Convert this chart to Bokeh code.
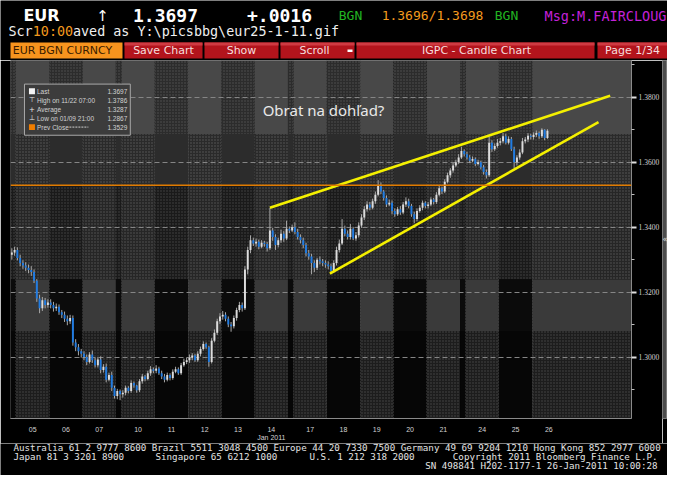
from datetime import date

from bokeh.plotting import figure
from bokeh.models import Range1d, FixedTicker, NumeralTickFormatter, Span, Label, ColumnDataSource
from bokeh.layouts import column, row
from bokeh.core.properties import value
from bokeh.embed import file_html
from bokeh.resources import INLINE

# ---------------- data (EUR BGN Curncy, 2-hour candles, Jan 2011) ----------------
session_labels = ["", "05", "06", "07", "", "10", "11", "12", "13", "14", "",
                  "17", "18", "19", "20", "21", "", "24", "25", "26"]
session_bars = [2, 12, 12, 12, 2, 12, 12, 12, 12, 12, 2, 12, 12, 12, 12, 12, 2, 12, 12, 6]

first_open = 1.3315
close = [
    1.3322, 1.3330,
    1.3305, 1.3290, 1.3282, 1.3275, 1.3268, 1.3262, 1.3235, 1.3180, 1.3150, 1.3175, 1.3160, 1.3168,
    1.3160, 1.3150, 1.3155, 1.3138, 1.3130, 1.3118, 1.3110, 1.3120, 1.3045, 1.3030, 1.3018, 1.3010,
    1.3000, 1.2985, 1.3008, 1.2990, 1.2975, 1.2992, 1.2960, 1.2970, 1.2930, 1.2945, 1.2905, 1.2880,
    1.2895, 1.2885,
    1.2890, 1.2905, 1.2895, 1.2920, 1.2912, 1.2898, 1.2925, 1.2940, 1.2932, 1.2950, 1.2962, 1.2958,
    1.2965, 1.2950, 1.2940, 1.2930, 1.2945, 1.2935, 1.2955, 1.2962, 1.2950, 1.2975, 1.2985, 1.2990,
    1.2998, 1.3005, 1.2990, 1.3010, 1.3025, 1.3040, 1.3030, 1.2985, 1.3050, 1.3075, 1.3110, 1.3125,
    1.3130, 1.3118, 1.3100, 1.3095, 1.3120, 1.3145, 1.3160, 1.3150, 1.3270, 1.3330, 1.3360, 1.3350,
    1.3355, 1.3340, 1.3352, 1.3348, 1.3335, 1.3390, 1.3370, 1.3345, 1.3360, 1.3380, 1.3365, 1.3395,
    1.3390, 1.3400,
    1.3385, 1.3370, 1.3360, 1.3345, 1.3320, 1.3310, 1.3290, 1.3275, 1.3300, 1.3295, 1.3290, 1.3285,
    1.3280, 1.3265, 1.3290, 1.3330, 1.3350, 1.3395, 1.3380, 1.3370, 1.3395, 1.3365, 1.3375, 1.3405,
    1.3430, 1.3455, 1.3470, 1.3460, 1.3480, 1.3500, 1.3530, 1.3510, 1.3490, 1.3470, 1.3475, 1.3450,
    1.3440, 1.3455, 1.3445, 1.3470, 1.3480, 1.3465, 1.3440, 1.3425, 1.3450, 1.3460, 1.3475, 1.3465,
    1.3470, 1.3485, 1.3478, 1.3500, 1.3520, 1.3510, 1.3540, 1.3560, 1.3575, 1.3590, 1.3600, 1.3615,
    1.3635, 1.3625,
    1.3615, 1.3605, 1.3610, 1.3595, 1.3600, 1.3585, 1.3570, 1.3560, 1.3660, 1.3640, 1.3650, 1.3660,
    1.3665, 1.3680, 1.3660, 1.3672, 1.3640, 1.3600, 1.3615, 1.3630, 1.3665, 1.3670, 1.3682, 1.3678,
    1.3685, 1.3690, 1.3680, 1.3700, 1.3675, 1.3697,
]
high = [
    1.3335, 1.3340,
    1.3338, 1.3315, 1.3298, 1.3292, 1.3285, 1.3280, 1.3270, 1.3240, 1.3192, 1.3185, 1.3182, 1.3178,
    1.3178, 1.3170, 1.3165, 1.3162, 1.3145, 1.3140, 1.3128, 1.3130, 1.3128, 1.3055, 1.3040, 1.3025,
    1.3018, 1.3008, 1.3015, 1.3020, 1.2998, 1.3000, 1.3002, 1.2978, 1.2980, 1.2952, 1.2955, 1.2912,
    1.2902, 1.2900,
    1.2898, 1.2912, 1.2910, 1.2928, 1.2925, 1.2915, 1.2932, 1.2948, 1.2945, 1.2958, 1.2972, 1.2968,
    1.2975, 1.2970, 1.2958, 1.2948, 1.2952, 1.2950, 1.2962, 1.2970, 1.2968, 1.2982, 1.2995, 1.2998,
    1.3008, 1.3012, 1.3010, 1.3018, 1.3032, 1.3048, 1.3045, 1.3035, 1.3058, 1.3085, 1.3118, 1.3135,
    1.3142, 1.3138, 1.3125, 1.3108, 1.3128, 1.3152, 1.3170, 1.3168, 1.3280, 1.3340, 1.3375, 1.3368,
    1.3365, 1.3362, 1.3360, 1.3358, 1.3355, 1.3460, 1.3398, 1.3378, 1.3368, 1.3392, 1.3388, 1.3420,
    1.3402, 1.3408,
    1.3415, 1.3395, 1.3378, 1.3368, 1.3352, 1.3330, 1.3318, 1.3298, 1.3305, 1.3310, 1.3302, 1.3298,
    1.3295, 1.3288, 1.3298, 1.3340, 1.3362, 1.3425, 1.3405, 1.3390, 1.3410, 1.3400, 1.3385, 1.3415,
    1.3440, 1.3465, 1.3480, 1.3478, 1.3488, 1.3510, 1.3545, 1.3538, 1.3515, 1.3498, 1.3485, 1.3482,
    1.3458, 1.3462, 1.3465, 1.3478, 1.3492, 1.3488, 1.3472, 1.3448, 1.3458, 1.3468, 1.3482, 1.3480,
    1.3478, 1.3492, 1.3490, 1.3508, 1.3528, 1.3525, 1.3548, 1.3568, 1.3582, 1.3598, 1.3608, 1.3625,
    1.3648, 1.3640,
    1.3632, 1.3622, 1.3618, 1.3615, 1.3608, 1.3605, 1.3592, 1.3578, 1.3680, 1.3668, 1.3658, 1.3672,
    1.3675, 1.3690, 1.3688, 1.3680, 1.3678, 1.3648, 1.3622, 1.3640, 1.3675, 1.3678, 1.3690, 1.3688,
    1.3692, 1.3698, 1.3695, 1.3705, 1.3702, 1.3702,
]
low = [
    1.3300, 1.3312,
    1.3298, 1.3280, 1.3272, 1.3265, 1.3258, 1.3250, 1.3228, 1.3170, 1.3135, 1.3142, 1.3150, 1.3152,
    1.3150, 1.3140, 1.3142, 1.3130, 1.3120, 1.3108, 1.3098, 1.3102, 1.3035, 1.3018, 1.3005, 1.2998,
    1.2990, 1.2975, 1.2980, 1.2982, 1.2968, 1.2968, 1.2950, 1.2952, 1.2922, 1.2925, 1.2895, 1.2872,
    1.2870, 1.2867,
    1.2875, 1.2882, 1.2888, 1.2890, 1.2905, 1.2890, 1.2892, 1.2918, 1.2925, 1.2928, 1.2942, 1.2950,
    1.2950, 1.2945, 1.2932, 1.2922, 1.2925, 1.2928, 1.2930, 1.2950, 1.2945, 1.2945, 1.2970, 1.2978,
    1.2982, 1.2990, 1.2985, 1.2985, 1.3002, 1.3020, 1.3025, 1.2970, 1.2980, 1.3045, 1.3068, 1.3102,
    1.3115, 1.3110, 1.3092, 1.3078, 1.3088, 1.3112, 1.3138, 1.3140, 1.3145, 1.3255, 1.3320, 1.3342,
    1.3340, 1.3332, 1.3335, 1.3340, 1.3325, 1.3330, 1.3358, 1.3330, 1.3338, 1.3352, 1.3355, 1.3360,
    1.3382, 1.3385,
    1.3378, 1.3362, 1.3350, 1.3335, 1.3310, 1.3300, 1.3255, 1.3262, 1.3268, 1.3285, 1.3280, 1.3275,
    1.3270, 1.3258, 1.3260, 1.3282, 1.3322, 1.3345, 1.3372, 1.3362, 1.3362, 1.3360, 1.3358, 1.3368,
    1.3398, 1.3422, 1.3448, 1.3452, 1.3455, 1.3472, 1.3495, 1.3502, 1.3482, 1.3462, 1.3465, 1.3440,
    1.3432, 1.3435, 1.3438, 1.3440, 1.3462, 1.3458, 1.3432, 1.3412, 1.3418, 1.3445, 1.3452, 1.3458,
    1.3458, 1.3465, 1.3470, 1.3472, 1.3495, 1.3502, 1.3505, 1.3535, 1.3552, 1.3568, 1.3585, 1.3595,
    1.3610, 1.3618,
    1.3608, 1.3598, 1.3600, 1.3588, 1.3590, 1.3578, 1.3562, 1.3550, 1.3555, 1.3632, 1.3635, 1.3645,
    1.3652, 1.3658, 1.3655, 1.3655, 1.3635, 1.3582, 1.3590, 1.3608, 1.3625, 1.3658, 1.3662, 1.3670,
    1.3670, 1.3678, 1.3672, 1.3675, 1.3668, 1.3672,
]

prev_close = 1.3529
legend_labels = ["Last", "High on 11/22 07:00", "Average", "Low on 01/09 21:00", "Prev Close"]
legend_values = [1.3697, 1.3786, 1.3287, 1.2867, 1.3529]

# hand drawn wedge
upper_x = [91.0, 213.6]
upper_y = [1.3460, 1.3805]
lower_x = [112.6, 209.4]
lower_y = [1.3257, 1.3724]

y_ticks = [1.30, 1.32, 1.34, 1.36, 1.38]
y_minor = [1.29, 1.31, 1.33, 1.35, 1.37, 1.39]

# ---------------- geometry (reference pixels) ----------------
X0, X1 = -2.48, 221.29
Y0, Y1 = 1.28106, 1.39136
FL, FR, FT, FB = 10, 632, 60, 424
W = 667


def dx(px):
    return X0 + (px - FL) / (FR - FL) * (X1 - X0)


def dy(py):
    return Y1 - (py - FT) / (FB - FT) * (Y1 - Y0)


def blank(p):
    p.xgrid.visible = False
    p.ygrid.visible = False


# ---------------- header ----------------
hdr = figure(width=W, height=60, x_range=Range1d(0, W), y_range=Range1d(60, 0),
             toolbar_location=None, output_backend="svg", min_border=0,
             x_axis_type=None, y_axis_type=None, outline_line_color=None,
             background_fill_color="black", border_fill_color="black")
blank(hdr)

mono = value("DejaVu Sans Mono")
hdr.text(x=[41], y=[15], text=["EUR"], text_font=value("DejaVu Sans"), text_font_style="bold",
         text_font_size="16px", text_color="white", text_align="center", text_baseline="middle")
hdr.text(x=[102], y=[15], text=["\u2191"], text_font=value("DejaVu Sans"),
         text_font_size="15px", text_color="white", text_align="center", text_baseline="middle")
hdr.text(x=[165, 279], y=[15, 15], text=["1.3697", "+.0016"], text_font=mono, text_font_style="bold",
         text_font_size="18px", text_color="white", text_align="center", text_baseline="middle")
hdr.text(x=[350, 506], y=[15, 15], text=["BGN", "BGN"], text_font=mono,
         text_font_size="13px", text_color="#22b422", text_align="center", text_baseline="middle")
hdr.text(x=[432], y=[15], text=["1.3696/1.3698"], text_font=mono,
         text_font_size="13px", text_color="#f39a1e", text_align="center", text_baseline="middle")
hdr.text(x=[605], y=[15], text=["Msg:M.FAIRCLOUG"], text_font=mono,
         text_font_size="13.5px", text_color="#c421d8", text_align="center", text_baseline="middle")

hdr.text(x=[8, 72.5], y=[31, 31], text=["Scr", "aved as Y:\\picsbbg\\eur25-1-11.gif"], text_font=mono,
         text_font_size="13.4px", text_color="#f0f0f0", text_baseline="middle")
hdr.text(x=[32.3], y=[31], text=["10:00"], text_font=mono,
         text_font_size="13.4px", text_color="#f39a1e", text_baseline="middle")

btn_left = [10, 124, 204, 280, 356, 597]
btn_right = [122, 202, 278, 354, 594, 668]
btn_text = ["EUR BGN CURNCY", "Save Chart", "Show", "Scroll", "IGPC - Candle Chart", "Page 1/34"]
btn_center = [62, 163, 241, 314, 476, 632]
hdr.quad(left=btn_left, right=btn_right, top=42, bottom=58,
         fill_color=["#f7941e"] + ["#b3141c"] * 5, line_color=None)
hdr.quad(left=btn_left[1:], right=btn_right[1:], top=42, bottom=45,
         fill_color="#cf3a42", line_color=None)
hdr.quad(left=[347], right=[352], top=[49], bottom=[51.5], fill_color="white", line_color=None)
hdr.text(x=btn_center[:1], y=[50], text=btn_text[:1], text_font=value("DejaVu Sans"),
         text_font_size="11px", text_color="#3a1c00", text_align="center", text_baseline="middle")
hdr.text(x=btn_center[1:], y=[50] * 5, text=btn_text[1:], text_font=value("DejaVu Sans"),
         text_font_size="11px", text_color="#f6dede", text_align="center", text_baseline="middle")

# ---------------- main chart ----------------
p = figure(width=662, height=383, x_range=Range1d(X0, X1), y_range=Range1d(Y0, Y1),
           y_axis_location="right", toolbar_location=None, output_backend="svg",
           min_border_left=FL, min_border_right=662 - FR, min_border_top=0, min_border_bottom=19,
           outline_line_color=None, background_fill_color="black", border_fill_color="black")

# session columns
starts = []
s = -2
for n in session_bars:
    starts.append(s)
    s += n

zone_edges = [Y0, 1.3080, 1.3240, prev_close, 1.3687, Y1]
light_style = [("#1d1d1d", "#4a4a4a"), ("#3a3a3a", None), ("#262626", "#575757"),
               ("#2a2a2a", "#5c5c5c"), ("#484848", None)]
dark_style = [("#060606", None), ("#0b0b0b", None), ("#1a1a1a", "#454545"),
              ("#2c2c2c", None), ("#2c2c2c", "#545454")]

solid = dict(l=[], r=[], b=[], t=[], c=[])
dotted = dict(l=[], r=[], b=[], t=[], c=[], h=[])
tick_pos, tick_lab, bounds = [], {}, []
for i, (lab, n) in enumerate(zip(session_labels, session_bars)):
    left = X0 if i == 0 else starts[i] - 0.5
    right = X1 if i == len(session_labels) - 1 else starts[i] + n - 0.5
    dark = lab == "" or date(2011, 1, int(lab)).weekday() in (1, 3)
    if lab:
        c = starts[i] + 5.5
        tick_pos.append(c)
        tick_lab[c] = lab + ("\nJan 2011" if lab == "14" else "")
        bounds.append(left)
    styles = dark_style if dark else light_style
    for z in range(5):
        fill, dots = styles[z]
        d = dotted if dots else solid
        d["l"].append(left)
        d["r"].append(right)
        d["b"].append(zone_edges[z])
        d["t"].append(zone_edges[z + 1])
        d["c"].append(fill)
        if dots:
            d["h"].append(dots)

p.quad(left="l", right="r", bottom="b", top="t", fill_color="c", line_color=None,
       source=ColumnDataSource(solid), level="image")
p.quad(left="l", right="r", bottom="b", top="t", fill_color="c", line_color=None,
       hatch_pattern="dot", hatch_color="h", hatch_scale=3, hatch_weight=0.7,
       source=ColumnDataSource(dotted), level="image")

# candles
x = list(range(-2, -2 + len(close)))
opn = [first_open] + close[:-1]
src = ColumnDataSource(dict(
    x=x, high=high, low=low,
    top=[max(o, c) for o, c in zip(opn, close)],
    bottom=[min(o, c) for o, c in zip(opn, close)],
    color=["#dcdcdc" if c >= o else "#1f7be2" for o, c in zip(opn, close)],
))
p.segment(x0="x", y0="high", x1="x", y1="low", source=src, line_color="#a9a9a9", line_width=1)
p.vbar(x="x", width=0.7, top="top", bottom="bottom", source=src, fill_color="color", line_color=None)

p.add_layout(Span(location=prev_close, dimension="width", line_color="#e07b00", line_width=1.5))

p.line(upper_x, upper_y, line_color="#f4f000", line_width=2.6)
p.line(lower_x, lower_y, line_color="#f4f000", line_width=2.6)

# grid / axes
p.xgrid.ticker = FixedTicker(ticks=bounds)
p.xgrid.grid_line_color = "#5a5a5a"
p.xgrid.grid_line_dash = "1 2"
p.xgrid.grid_line_alpha = 0.7
p.ygrid.ticker = FixedTicker(ticks=y_ticks)
p.ygrid.grid_line_color = "#858585"
p.ygrid.grid_line_dash = "5 3"

p.xaxis.ticker = FixedTicker(ticks=tick_pos)
p.xaxis.major_label_overrides = tick_lab
p.xaxis.major_tick_line_color = None
p.xaxis.minor_tick_line_color = None
p.xaxis.major_label_standoff = 1
p.xaxis.axis_line_color = "#8a8a8a"
p.xaxis.major_label_text_font = "Liberation Sans"
p.xaxis.major_label_text_font_size = "7px"
p.xaxis.major_label_text_color = "#d4d4d4"

p.yaxis.ticker = FixedTicker(ticks=y_ticks, minor_ticks=y_minor)
p.yaxis.formatter = NumeralTickFormatter(format="0.0000")
p.yaxis.axis_line_color = "#8a8a8a"
p.yaxis.major_tick_in = 0
p.yaxis.major_tick_out = 5
p.yaxis.major_tick_line_color = "#e0e0e0"
p.yaxis.major_tick_line_width = 2
p.yaxis.minor_tick_in = 0
p.yaxis.minor_tick_out = 3
p.yaxis.minor_tick_line_color = "#bdbdbd"
p.yaxis.major_label_standoff = 2
p.yaxis.major_label_text_font = "Liberation Serif"
p.yaxis.major_label_text_font_size = "7.5px"
p.yaxis.major_label_text_color = "#d4d4d4"

# last price tag
p.add_layout(Label(x=X1, y=close[-1], x_offset=2, text=f"{close[-1]:.4f}", text_font="Liberation Serif",
                   text_font_size="7px", text_color="#111111", text_baseline="middle",
                   background_fill_color="#f2f2f2", border_line_color="#bbbbbb"))

# comment text
p.add_layout(Label(x=dx(323.5), y=dy(110), text="Obrat na dohľad?", text_font="Noto Sans",
                   text_font_size="15px", text_color="#e8e8e8", text_align="center",
                   text_baseline="middle"))

# info box
p.quad(left=[dx(24)], right=[dx(130)], top=[dy(84)], bottom=[dy(136)],
       fill_color="#3c3c3c", line_color="#a8a8a8", line_width=1)
row_y = [dy(v) for v in (91.3, 100.5, 109.5, 118.7, 127.7)]
p.text(x=[dx(36.5)] * 5, y=row_y, text=legend_labels, text_font=value("Liberation Sans"),
       text_font_size="6.5px", text_color="#d2d2d2", text_baseline="middle")
p.text(x=[dx(127)] * 5, y=row_y, text=[f"{v:.4f}" for v in legend_values],
       text_font=value("Liberation Sans"), text_font_size="6.5px", text_color="#d2d2d2",
       text_align="right", text_baseline="middle")
p.quad(left=[dx(28.5)] * 2, right=[dx(34.5)] * 2, top=[row_y[0] + 0.0009, row_y[4] + 0.0009],
       bottom=[row_y[0] - 0.0009, row_y[4] - 0.0009], fill_color=["#f4f4f4", "#f07d00"],
       line_color=None)
p.text(x=[dx(31.5)] * 3, y=row_y[1:4], text=["\u22a4", "+", "\u22a5"], text_font=value("DejaVu Sans"),
       text_font_size="7px", text_color="#e8e8e8", text_align="center", text_baseline="middle")
p.segment(x0=[dx(69)], y0=[row_y[4]], x1=[dx(88)], y1=[row_y[4]], line_color="#d2d2d2",
          line_dash="2 1", line_width=1)

# scroll bar
sb = figure(width=W - 662, height=383, x_range=Range1d(0, W - 662), y_range=Range1d(383, 0),
            toolbar_location=None, output_backend="svg", min_border=0,
            x_axis_type=None, y_axis_type=None, outline_line_color="#7a7a7a",
            background_fill_color="#4c4c4c", border_fill_color="black")
blank(sb)
sb.text(x=[2.5], y=[192], text=["\u00ab"], text_font=value("DejaVu Sans"), text_font_size="8px",
        text_color="#dddddd", text_align="center", text_baseline="middle")

# ---------------- footer ----------------
ft = figure(width=W, height=32, x_range=Range1d(0, W), y_range=Range1d(475, 443),
            toolbar_location=None, output_backend="svg", min_border=0,
            x_axis_type=None, y_axis_type=None, outline_line_color=None,
            background_fill_color="black", border_fill_color="black")
blank(ft)
fmono = value("DejaVu Sans Mono")
ft.text(x=[13, 13, 155, 309], y=[446.7, 456, 456, 456],
        text=["Australia 61 2 9777 8600 Brazil 5511 3048 4500 Europe 44 20 7330 7500 "
              "Germany 49 69 9204 1210 Hong Kong 852 2977 6000",
              "Japan 81 3 3201 8900", "Singapore 65 6212 1000", "U.S. 1 212 318 2000"],
        text_font=fmono, text_font_size="9.2px", text_color="#e4e4e4", text_baseline="middle")
ft.text(x=[657, 657], y=[456, 465.3],
        text=["Copyright 2011 Bloomberg Finance L.P.", "SN 498841 H202-1177-1 26-Jan-2011 10:00:28"],
        text_font=fmono, text_font_size="9.2px", text_color="#e4e4e4", text_align="right",
        text_baseline="middle")

layout = column(hdr, row(p, sb), ft)
open("out.html", "w").write(file_html(layout, INLINE))
